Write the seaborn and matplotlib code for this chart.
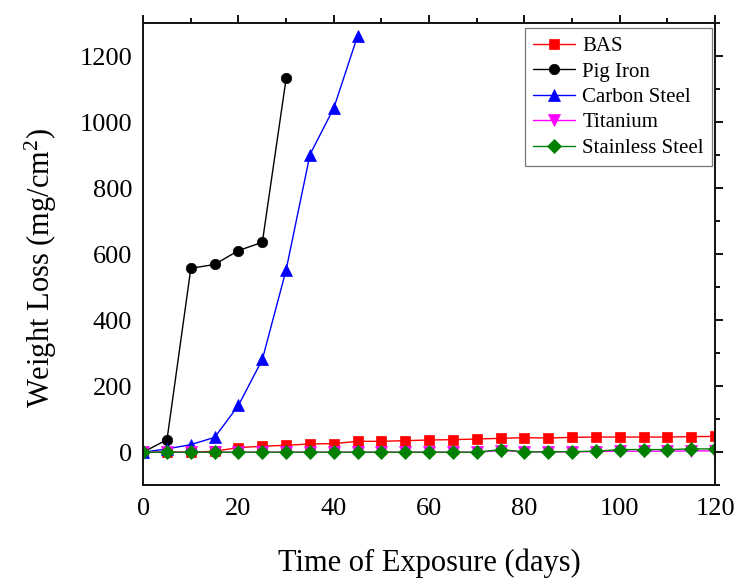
# Weight loss vs exposure time
import pandas as pd
import seaborn as sns
import matplotlib.pyplot as plt
from matplotlib.ticker import MultipleLocator

# Dados
days_long = [0, 5, 10, 15, 20, 25, 30, 35, 40, 45, 50, 55, 60, 65, 70, 75, 80,
             85, 90, 95, 100, 105, 110, 115, 120]
bas = [0, 0, 0, 3, 14, 18, 21, 25, 26, 33, 33, 35, 37, 38, 40, 42, 44, 43, 45,
       46, 46, 46, 46, 47, 48]
days_pig = [0, 5, 10, 15, 20, 25, 30]
pig_iron = [0, 38, 557, 569, 611, 636, 1133]
days_carbon = [0, 5, 10, 15, 20, 25, 30, 35, 40, 45]
carbon_steel = [0, 10, 23, 45, 142, 281, 553, 902, 1043, 1262]
titanium = [0, 0, 0, 0, 0, 0, 0, 0, 0, 0, 0, 0, 0, 0, 0, 5, 1, 1, 1, 2, 3, 3,
            3, 4, 4]
stainless = [0, 0, 0, 0, 0, 0, 0, 0, 0, 0, 0, 0, 0, 0, 0, 8, 1, 1, 2, 3, 8, 8,
             8, 10, 10]

series = [
    ('BAS', days_long, bas, '#FF0000', 's', 7),
    ('Pig Iron', days_pig, pig_iron, '#000000', 'o', 7.5),
    ('Carbon Steel', days_carbon, carbon_steel, '#0000FF', '^', 8),
    ('Titanium', days_long, titanium, '#FF00FF', 'v', 8),
    ('Stainless Steel', days_long, stainless, '#008000', 'D', 7),
]

sns.set_style('white')
plt.rcParams['font.family'] = ['Liberation Serif', 'DejaVu Serif']
plt.rcParams['mathtext.fontset'] = 'custom'
plt.rcParams['mathtext.rm'] = 'Liberation Serif'
plt.rcParams['mathtext.it'] = 'Liberation Serif:italic'
plt.rcParams['text.color'] = 'black'
plt.rcParams['axes.labelcolor'] = 'black'
plt.rcParams['xtick.color'] = 'black'
plt.rcParams['ytick.color'] = 'black'

fig = plt.figure(figsize=(7.38, 5.79), dpi=100)
ax = fig.add_axes([0.194, 0.162, 0.775, 0.798])

for name, x, y, color, marker, ms in series:
    df = pd.DataFrame({'days': x, 'loss': y})
    sns.lineplot(data=df, x='days', y='loss', ax=ax, color=color, marker=marker,
                 markersize=ms, markeredgecolor=color, markeredgewidth=0.5,
                 linewidth=1, label=name)

ax.set_xlim(0, 120)
ax.set_ylim(-100, 1300)
ax.xaxis.set_major_locator(MultipleLocator(20))
ax.xaxis.set_minor_locator(MultipleLocator(10))
ax.yaxis.set_major_locator(MultipleLocator(200))
ax.yaxis.set_minor_locator(MultipleLocator(100))
ax.tick_params(which='both', direction='out', top=True, right=True,
               labeltop=False, labelright=False, width=1.4, color='#111111')
ax.tick_params(which='major', length=6, labelsize=19)
ax.tick_params(which='minor', length=3.5)
ax.tick_params(axis='y', which='major', pad=2)
for sp in ax.spines.values():
    sp.set_linewidth(1.4)
    sp.set_color('#111111')

ax.set_xlabel('Time of Exposure (days)', fontsize=22, labelpad=20)
ax.set_ylabel('Weight Loss (mg/cm$^2$)', fontsize=22)
ax.yaxis.set_label_coords(-0.147, 0.47)

leg = ax.legend(loc='upper right', fontsize=15, frameon=True, fancybox=False,
                edgecolor='#555555', handlelength=2.0, borderpad=0.4,
                labelspacing=0.28, handletextpad=0.35, borderaxespad=0,
                bbox_to_anchor=(0.995, 0.989))
leg.get_frame().set_linewidth(0.9)

fig.savefig('out.png', dpi=100)
